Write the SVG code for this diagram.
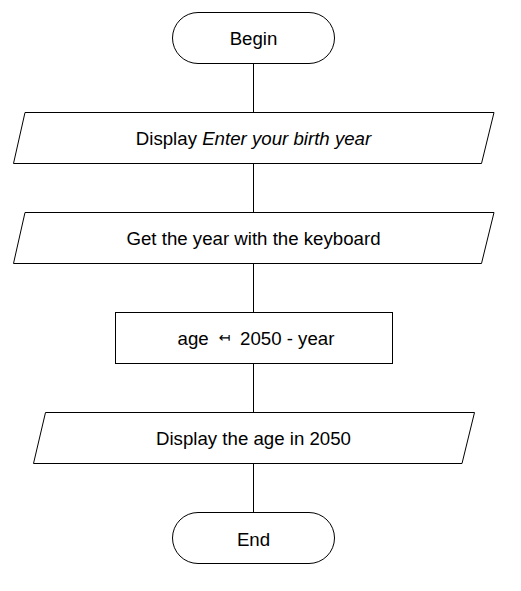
<svg xmlns="http://www.w3.org/2000/svg" width="521" height="591" viewBox="0 0 521 591">
<style>
.shape{fill:#ffffff;stroke:#000000;stroke-width:1}
.lbl{font-family:"Liberation Sans",Arial,sans-serif;font-size:18.67px;fill:#000000;text-anchor:middle}
.lbl.start{text-anchor:start}
.arrow{font-family:"DejaVu Sans",sans-serif;font-size:14px;text-anchor:middle}
.conn{stroke:#000000;stroke-width:1;fill:none}
</style>
<rect width="521" height="591" fill="#ffffff"/>
<g id="connectors">
<line class="conn" x1="253.5" y1="63.5" x2="253.5" y2="112.5"/>
<line class="conn" x1="253.5" y1="163.5" x2="253.5" y2="212.5"/>
<line class="conn" x1="253.5" y1="263.5" x2="253.5" y2="312.5"/>
<line class="conn" x1="253.5" y1="363.5" x2="253.5" y2="412.5"/>
<line class="conn" x1="253.5" y1="463.5" x2="253.5" y2="512.5"/>
</g>
<g id="begin">
<rect class="shape" x="172.5" y="12.5" width="162" height="51" rx="25.5" ry="25.5"/>
<text class="lbl" x="253.5" y="44.5">Begin</text>
</g>
<g id="display-prompt">
<polygon class="shape" points="25,112.5 494,112.5 481.5,163.5 13.5,163.5"/>
<text class="lbl" x="253.5" y="144.5">Display <tspan font-style="italic">Enter your birth year</tspan></text>
</g>
<g id="get-year">
<polygon class="shape" points="25,212.5 494,212.5 481.5,263.5 13.5,263.5"/>
<text class="lbl" x="253.5" y="244.5">Get the year with the keyboard</text>
</g>
<g id="compute-age">
<rect class="shape" x="115.5" y="312.5" width="277" height="51"/>
<text class="lbl start" x="177.5" y="344.5">age <tspan class="arrow" x="224.5" dy="-3">↤</tspan><tspan class="lbl start" x="240" dy="3">2050 - year</tspan></text>
</g>
<g id="display-age">
<polygon class="shape" points="45.5,412.5 474.5,412.5 462,463.5 33.5,463.5"/>
<text class="lbl" x="253.5" y="444.5">Display the age in 2050</text>
</g>
<g id="end">
<rect class="shape" x="172.5" y="512.5" width="162" height="51" rx="25.5" ry="25.5"/>
<text class="lbl" x="253.5" y="545.5">End</text>
</g>
</svg>
